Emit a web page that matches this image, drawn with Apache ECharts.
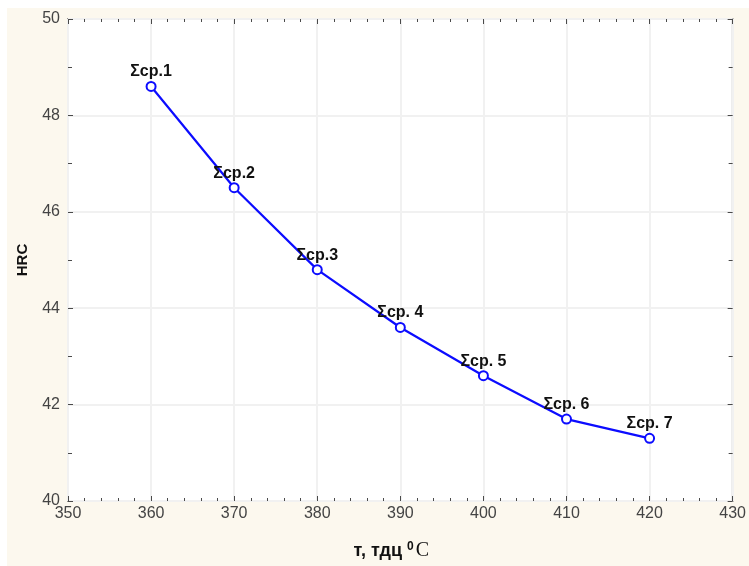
<!DOCTYPE html>
<html>
<head>
<meta charset="utf-8">
<script src="https://cdn.jsdelivr.net/npm/echarts@6/dist/echarts.min.js"></script>
<style>
  html, body { margin: 0; padding: 0; background: #fff; }
  #chart { position: absolute; left: 7px; top: 8px; width: 742px; height: 558px; }
</style>
</head>
<body>
<div id="chart"></div>
<script>
// температура (x) и твердость HRC (y)
const temps = [360, 370, 380, 390, 400, 410, 420];
const hrc = [48.6, 46.5, 44.8, 43.6, 42.6, 41.7, 41.3];
const pointLabels = ["Σср.1", "Σср.2", "Σср.3", "Σср. 4", "Σср. 5", "Σср. 6", "Σср. 7"];

const xMin = 350, xMax = 430, xStep = 10;
const yMin = 40, yMax = 50, yStep = 2;

const axisColor = "#4a4a4a";
const tickFont = { color: "#444", fontSize: 16, fontFamily: "Liberation Sans, Arial, sans-serif" };

let chart = echarts.init(document.getElementById("chart"));

let option = {
  backgroundColor: "#fcf8ee",
  animation: false,
  grid: {
    left: 59,
    right: 15,
    top: 11,
    bottom: 62,
    show: true,
    backgroundColor: "#ffffff",
    borderColor: axisColor,
    borderWidth: 1.5,
  },
  xAxis: [
    {
      type: "value",
      min: xMin,
      max: xMax,
      interval: xStep,
      axisLine: { show: false },
      axisTick: { show: true, inside: true, length: 5, lineStyle: { color: axisColor } },
      minorTick: { show: true, splitNumber: 5, length: 3, lineStyle: { color: axisColor } },
      axisLabel: { ...tickFont, margin: 5 },
      splitLine: { show: true, lineStyle: { color: "#f1f1f1", width: 2 } },
      name: "{a|т, тдц }{b|0}{c|C}",
      nameLocation: "middle",
      nameGap: 40,
      nameTextStyle: {
        padding: [0, 18, 0, 0],
        rich: {
          a: { fontSize: 18, fontWeight: "bold", color: "#111", fontFamily: "Liberation Sans, Arial, sans-serif" },
          b: { fontSize: 12, fontWeight: "bold", color: "#111", verticalAlign: "top", padding: [0, 2, 8, 0], fontFamily: "Liberation Sans, Arial, sans-serif" },
          c: { fontSize: 20, color: "#111", fontFamily: "Liberation Serif, Times New Roman, serif" },
        },
      },
    },
    {
      type: "value",
      position: "top",
      min: xMin,
      max: xMax,
      interval: xStep,
      axisLine: { show: false },
      axisTick: { show: true, inside: true, length: 5, lineStyle: { color: axisColor } },
      minorTick: { show: true, splitNumber: 5, length: 3, lineStyle: { color: axisColor } },
      axisLabel: { show: false },
      splitLine: { show: false },
    },
  ],
  yAxis: [
    {
      type: "value",
      min: yMin,
      max: yMax,
      interval: yStep,
      axisLine: { show: false },
      axisTick: { show: true, inside: true, length: 5, lineStyle: { color: axisColor } },
      minorTick: { show: true, splitNumber: 2, length: 4, lineStyle: { color: axisColor } },
      axisLabel: { ...tickFont, margin: 8 },
      splitLine: { show: true, lineStyle: { color: "#f1f1f1", width: 2 } },
      name: "HRC",
      nameLocation: "middle",
      nameGap: 38,
      nameTextStyle: { fontSize: 15, fontWeight: "bold", color: "#111", fontFamily: "Liberation Sans, Arial, sans-serif" },
    },
    {
      type: "value",
      position: "right",
      min: yMin,
      max: yMax,
      interval: yStep,
      axisLine: { show: false },
      axisTick: { show: true, inside: true, length: 5, lineStyle: { color: axisColor } },
      minorTick: { show: true, splitNumber: 2, length: 4, lineStyle: { color: axisColor } },
      axisLabel: { show: false },
      splitLine: { show: false },
    },
  ],
  series: [
    {
      type: "line",
      xAxisIndex: 0,
      yAxisIndex: 0,
      data: temps.map((t, i) => [t, hrc[i]]),
      symbol: "circle",
      symbolSize: 9,
      lineStyle: { color: "#0c0cff", width: 2.2 },
      itemStyle: { color: "#ffffff", borderColor: "#0c0cff", borderWidth: 2 },
      label: {
        show: true,
        position: "top",
        distance: 1,
        formatter: (p) => pointLabels[p.dataIndex],
        fontSize: 16,
        fontWeight: "bold",
        color: "#111",
        fontFamily: "Liberation Sans, Arial, sans-serif",
      },
      z: 5,
    },
  ],
};

chart.setOption(option);
</script>
</body>
</html>
